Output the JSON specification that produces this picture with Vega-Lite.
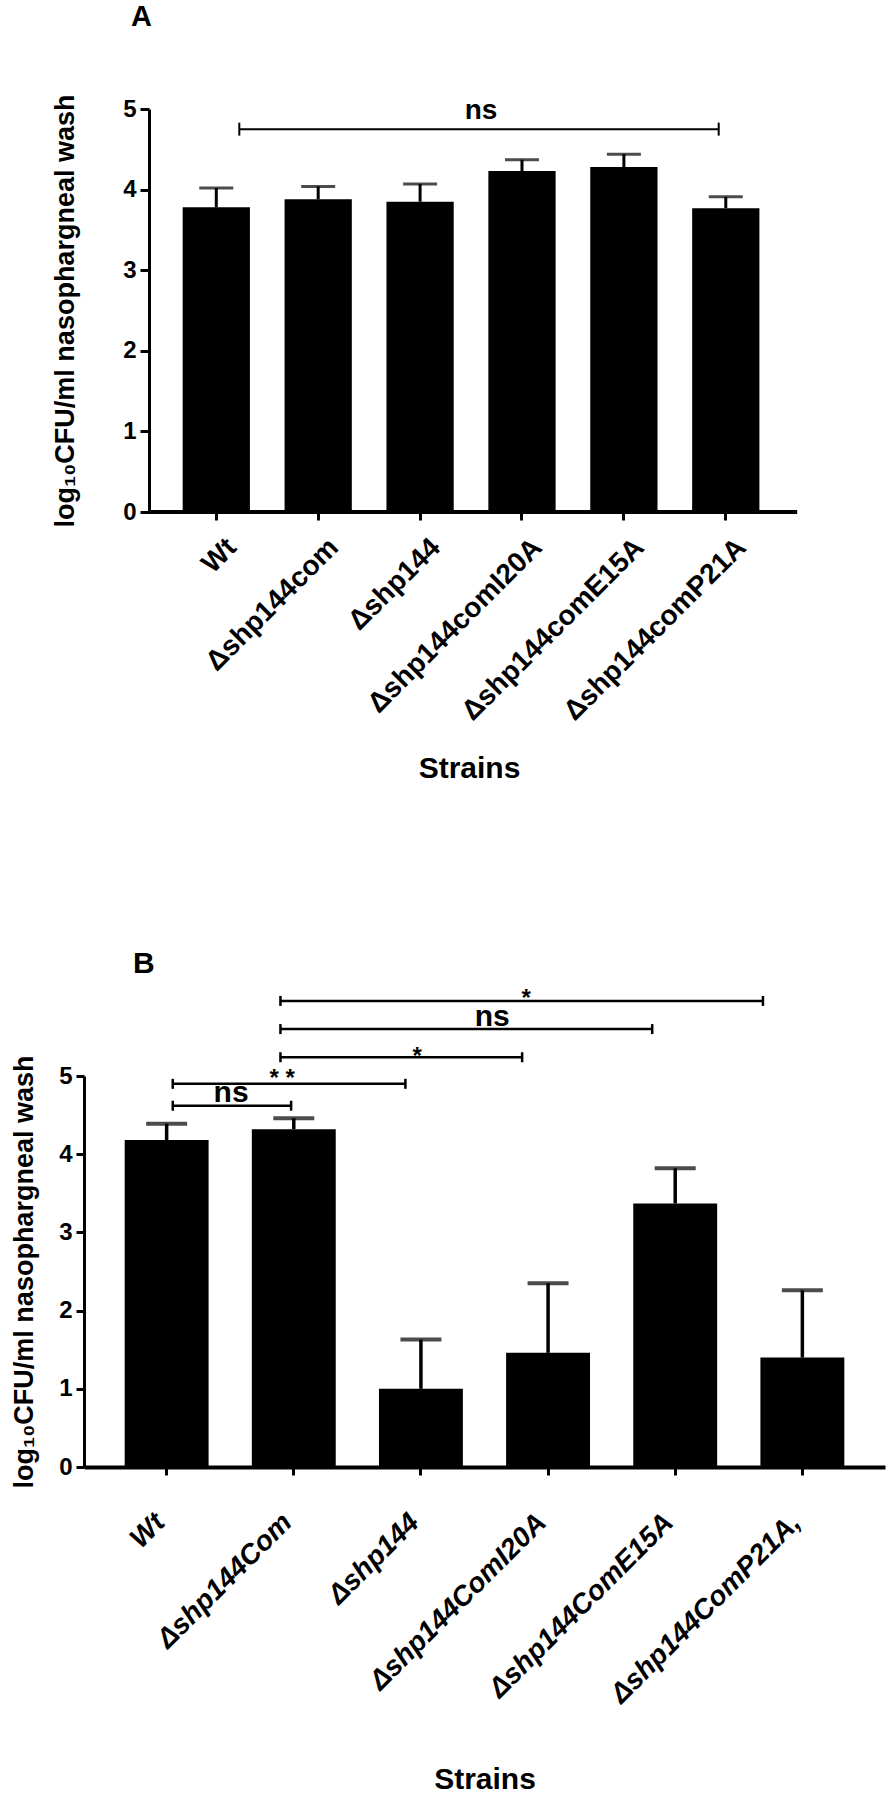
{
  "$schema": "https://vega.github.io/schema/vega-lite/v6.json",
  "background": "white",
  "padding": {"left": 10, "top": 3, "right": 5, "bottom": 0},
  "config": {"view": {"stroke": null}, "font": "Liberation Sans"},
  "spacing": 166,
  "datasets": {
    "a": [
      {"strain": "Wt", "mean": 3.78, "upper": 4.02},
      {"strain": "Δshp144com", "mean": 3.88, "upper": 4.04},
      {"strain": "Δshp144", "mean": 3.85, "upper": 4.07},
      {"strain": "Δshp144comI20A", "mean": 4.23, "upper": 4.37},
      {"strain": "Δshp144comE15A", "mean": 4.28, "upper": 4.44},
      {"strain": "Δshp144comP21A", "mean": 3.77, "upper": 3.91}
    ],
    "aBr": [{"x1": 0.226, "x2": 4.93, "y": 4.75}],
    "aBase": [{"x1": -0.66, "x2": 5.7, "y": 0}],
    "aTxt": [{"x": 2.598, "y": 4.88, "label": "ns"}],
    "b": [
      {"strain": "Wt", "mean": 4.18, "upper": 4.39},
      {"strain": "Δshp144Com", "mean": 4.32, "upper": 4.46},
      {"strain": "Δshp144", "mean": 1.0, "upper": 1.63},
      {"strain": "Δshp144ComI20A", "mean": 1.46, "upper": 2.35},
      {"strain": "Δshp144ComE15A", "mean": 3.37, "upper": 3.82},
      {"strain": "Δshp144ComP21A,", "mean": 1.40, "upper": 2.26}
    ],
    "bBr": [
      {"x1": 0.048, "x2": 0.979, "y": 4.62},
      {"x1": 0.048, "x2": 1.878, "y": 4.90},
      {"x1": 0.895, "x2": 2.796, "y": 5.24},
      {"x1": 0.895, "x2": 3.819, "y": 5.60},
      {"x1": 0.895, "x2": 4.690, "y": 5.96}
    ],
    "bNs": [
      {"x": 0.507, "y": 4.667, "label": "ns"},
      {"x": 2.560, "y": 5.636, "label": "ns"}
    ],
    "bStar": [
      {"x": 0.908, "y": 4.866, "label": "* *"},
      {"x": 1.970, "y": 5.153, "label": "*"},
      {"x": 2.828, "y": 5.889, "label": "*"}
    ]
  },
  "vconcat": [
    {
      "title": {"text": "A", "anchor": "start", "frame": "group", "dx": 47, "offset": 62, "fontSize": 29, "fontWeight": "bold", "font": "Liberation Sans", "color": "black"},
      "width": 709,
      "height": 403,
      "layer": [
        {
          "data": {"name": "a"},
          "layer": [
            {
              "mark": {"type": "bar", "color": "black"},
              "encoding": {
                "x": {
                  "field": "strain", "type": "nominal", "sort": null,
                  "scale": {"paddingInner": 0.34, "paddingOuter": 0.649, "align": 0.746},
                  "axis": {
                    "title": "Strains", "titleX": 385, "labelAngle": -45, "labelAlign": "right", "labelBaseline": "middle",
                    "labelFontSize": 28, "labelFontWeight": "bold", "labelColor": "black", "labelPadding": 23, "labelOffset": 16,
                    "labelLimit": 0, "labelOverlap": false, "labelFont": "Liberation Sans",
                    "tickSize": 8, "tickWidth": 3, "tickColor": "black",
                    "domain": false,
                    "titleFontSize": 30, "titleFontWeight": "bold", "titleColor": "black", "titlePadding": 41, "titleFont": "Liberation Sans"
                  }
                },
                "y": {
                  "field": "mean", "type": "quantitative",
                  "scale": {"domain": [0, 5], "nice": false},
                  "axis": {
                    "title": "log₁₀CFU/ml nasophargneal wash", "values": [0, 1, 2, 3, 4, 5], "format": "d", "grid": false,
                    "offset": -65,
                    "labelFontSize": 24, "labelFontWeight": "bold", "labelColor": "black", "labelPadding": 4, "labelFont": "Liberation Sans",
                    "tickSize": 9, "tickWidth": 3, "tickColor": "black",
                    "domainWidth": 3, "domainColor": "black",
                    "titleFontSize": 27, "titleFontWeight": "bold", "titleColor": "black", "titlePadding": 43, "titleFont": "Liberation Sans"
                  }
                }
              }
            },
            {
              "mark": {"type": "rule", "strokeWidth": 3, "color": "black"},
              "encoding": {
                "x": {"field": "strain", "type": "nominal", "sort": null},
                "y": {"field": "mean", "type": "quantitative"},
                "y2": {"field": "upper"}
              }
            },
            {
              "mark": {"type": "tick", "size": 34, "thickness": 3, "color": "black"},
              "encoding": {
                "x": {"field": "strain", "type": "nominal", "sort": null},
                "y": {"field": "upper", "type": "quantitative"}
              }
            }
          ]
        },
        {
          "layer": [
            {
              "data": {"name": "aBase"},
              "mark": {"type": "rule", "strokeWidth": 4, "color": "black"},
              "encoding": {
                "x": {"field": "x1", "type": "quantitative", "scale": {"domain": [-1.298, 5.659], "nice": false, "zero": false}, "axis": null},
                "x2": {"field": "x2"},
                "y": {"field": "y", "type": "quantitative"}
              }
            },
            {
              "data": {"name": "aBr"},
              "mark": {"type": "rule", "strokeWidth": 2, "color": "black"},
              "encoding": {
                "x": {"field": "x1", "type": "quantitative", "scale": {"domain": [-1.298, 5.659], "nice": false, "zero": false}, "axis": null},
                "x2": {"field": "x2"},
                "y": {"field": "y", "type": "quantitative"}
              }
            },
            {
              "data": {"name": "aBr"},
              "transform": [{"fold": ["x1", "x2"], "as": ["end", "xv"]}],
              "mark": {"type": "point", "shape": "M0,-1L0,1", "size": 169, "strokeWidth": 2, "color": "black", "filled": false, "opacity": 1},
              "encoding": {
                "x": {"field": "xv", "type": "quantitative", "scale": {"domain": [-1.298, 5.659], "nice": false, "zero": false}, "axis": null},
                "y": {"field": "y", "type": "quantitative"}
              }
            },
            {
              "data": {"name": "aTxt"},
              "mark": {"type": "text", "fontSize": 28, "fontWeight": "bold", "font": "Liberation Sans", "baseline": "alphabetic", "align": "center", "color": "black"},
              "encoding": {
                "x": {"field": "x", "type": "quantitative", "scale": {"domain": [-1.298, 5.659], "nice": false, "zero": false}, "axis": null},
                "y": {"field": "y", "type": "quantitative"},
                "text": {"field": "label"}
              }
            }
          ]
        }
      ],
      "resolve": {"scale": {"x": "independent"}}
    },
    {
      "title": {"text": "B", "anchor": "start", "frame": "group", "dx": 49, "offset": 8, "fontSize": 30, "fontWeight": "bold", "font": "Liberation Sans", "color": "black"},
      "width": 801,
      "height": 391,
      "layer": [
        {
          "data": {"name": "b"},
          "layer": [
            {
              "mark": {"type": "bar", "color": "black"},
              "encoding": {
                "x": {
                  "field": "strain", "type": "nominal", "sort": null,
                  "scale": {"paddingInner": 0.34, "paddingOuter": 0.32},
                  "axis": {
                    "title": "Strains", "labelAngle": -45, "labelAlign": "right", "labelBaseline": "middle",
                    "labelFontSize": 28, "labelFontWeight": "bold", "labelFontStyle": "italic", "labelColor": "black", "labelPadding": 43, "labelOffset": -6,
                    "labelLimit": 0, "labelOverlap": false, "labelFont": "Liberation Sans",
                    "tickSize": 8, "tickWidth": 3, "tickColor": "black",
                    "domainWidth": 4, "domainColor": "black",
                    "titleFontSize": 30, "titleFontWeight": "bold", "titleColor": "black", "titlePadding": 97, "titleFont": "Liberation Sans"
                  }
                },
                "y": {
                  "field": "mean", "type": "quantitative",
                  "scale": {"domain": [0, 5], "nice": false},
                  "axis": {
                    "title": "log₁₀CFU/ml nasophargneal wash", "values": [0, 1, 2, 3, 4, 5], "format": "d", "grid": false,
                    "labelFontSize": 24, "labelFontWeight": "bold", "labelColor": "black", "labelPadding": 4, "labelFont": "Liberation Sans",
                    "tickSize": 8, "tickWidth": 3, "tickColor": "black",
                    "domainWidth": 3, "domainColor": "black",
                    "titleFontSize": 27, "titleFontWeight": "bold", "titleColor": "black", "titlePadding": 20, "titleFont": "Liberation Sans"
                  }
                }
              }
            },
            {
              "mark": {"type": "rule", "strokeWidth": 3.5, "color": "black"},
              "encoding": {
                "x": {"field": "strain", "type": "nominal", "sort": null},
                "y": {"field": "mean", "type": "quantitative"},
                "y2": {"field": "upper"}
              }
            },
            {
              "mark": {"type": "tick", "size": 41, "thickness": 4, "color": "black"},
              "encoding": {
                "x": {"field": "strain", "type": "nominal", "sort": null},
                "y": {"field": "upper", "type": "quantitative"}
              }
            }
          ]
        },
        {
          "layer": [
            {
              "data": {"name": "bBr"},
              "mark": {"type": "rule", "strokeWidth": 2.5, "color": "black"},
              "encoding": {
                "x": {"field": "x1", "type": "quantitative", "scale": {"domain": [-0.65, 5.65], "nice": false, "zero": false}, "axis": null},
                "x2": {"field": "x2"},
                "y": {"field": "y", "type": "quantitative"}
              }
            },
            {
              "data": {"name": "bBr"},
              "transform": [{"fold": ["x1", "x2"], "as": ["end", "xv"]}],
              "mark": {"type": "point", "shape": "M0,-1L0,1", "size": 100, "strokeWidth": 2.5, "color": "black", "filled": false, "opacity": 1},
              "encoding": {
                "x": {"field": "xv", "type": "quantitative", "scale": {"domain": [-0.65, 5.65], "nice": false, "zero": false}, "axis": null},
                "y": {"field": "y", "type": "quantitative"}
              }
            },
            {
              "data": {"name": "bNs"},
              "mark": {"type": "text", "fontSize": 30, "fontWeight": "bold", "font": "Liberation Sans", "baseline": "alphabetic", "align": "center", "color": "black"},
              "encoding": {
                "x": {"field": "x", "type": "quantitative", "scale": {"domain": [-0.65, 5.65], "nice": false, "zero": false}, "axis": null},
                "y": {"field": "y", "type": "quantitative"},
                "text": {"field": "label"}
              }
            },
            {
              "data": {"name": "bStar"},
              "mark": {"type": "text", "fontSize": 24, "fontWeight": "bold", "font": "Liberation Sans", "baseline": "alphabetic", "align": "center", "color": "black"},
              "encoding": {
                "x": {"field": "x", "type": "quantitative", "scale": {"domain": [-0.65, 5.65], "nice": false, "zero": false}, "axis": null},
                "y": {"field": "y", "type": "quantitative"},
                "text": {"field": "label"}
              }
            }
          ]
        }
      ],
      "resolve": {"scale": {"x": "independent"}}
    }
  ]
}
